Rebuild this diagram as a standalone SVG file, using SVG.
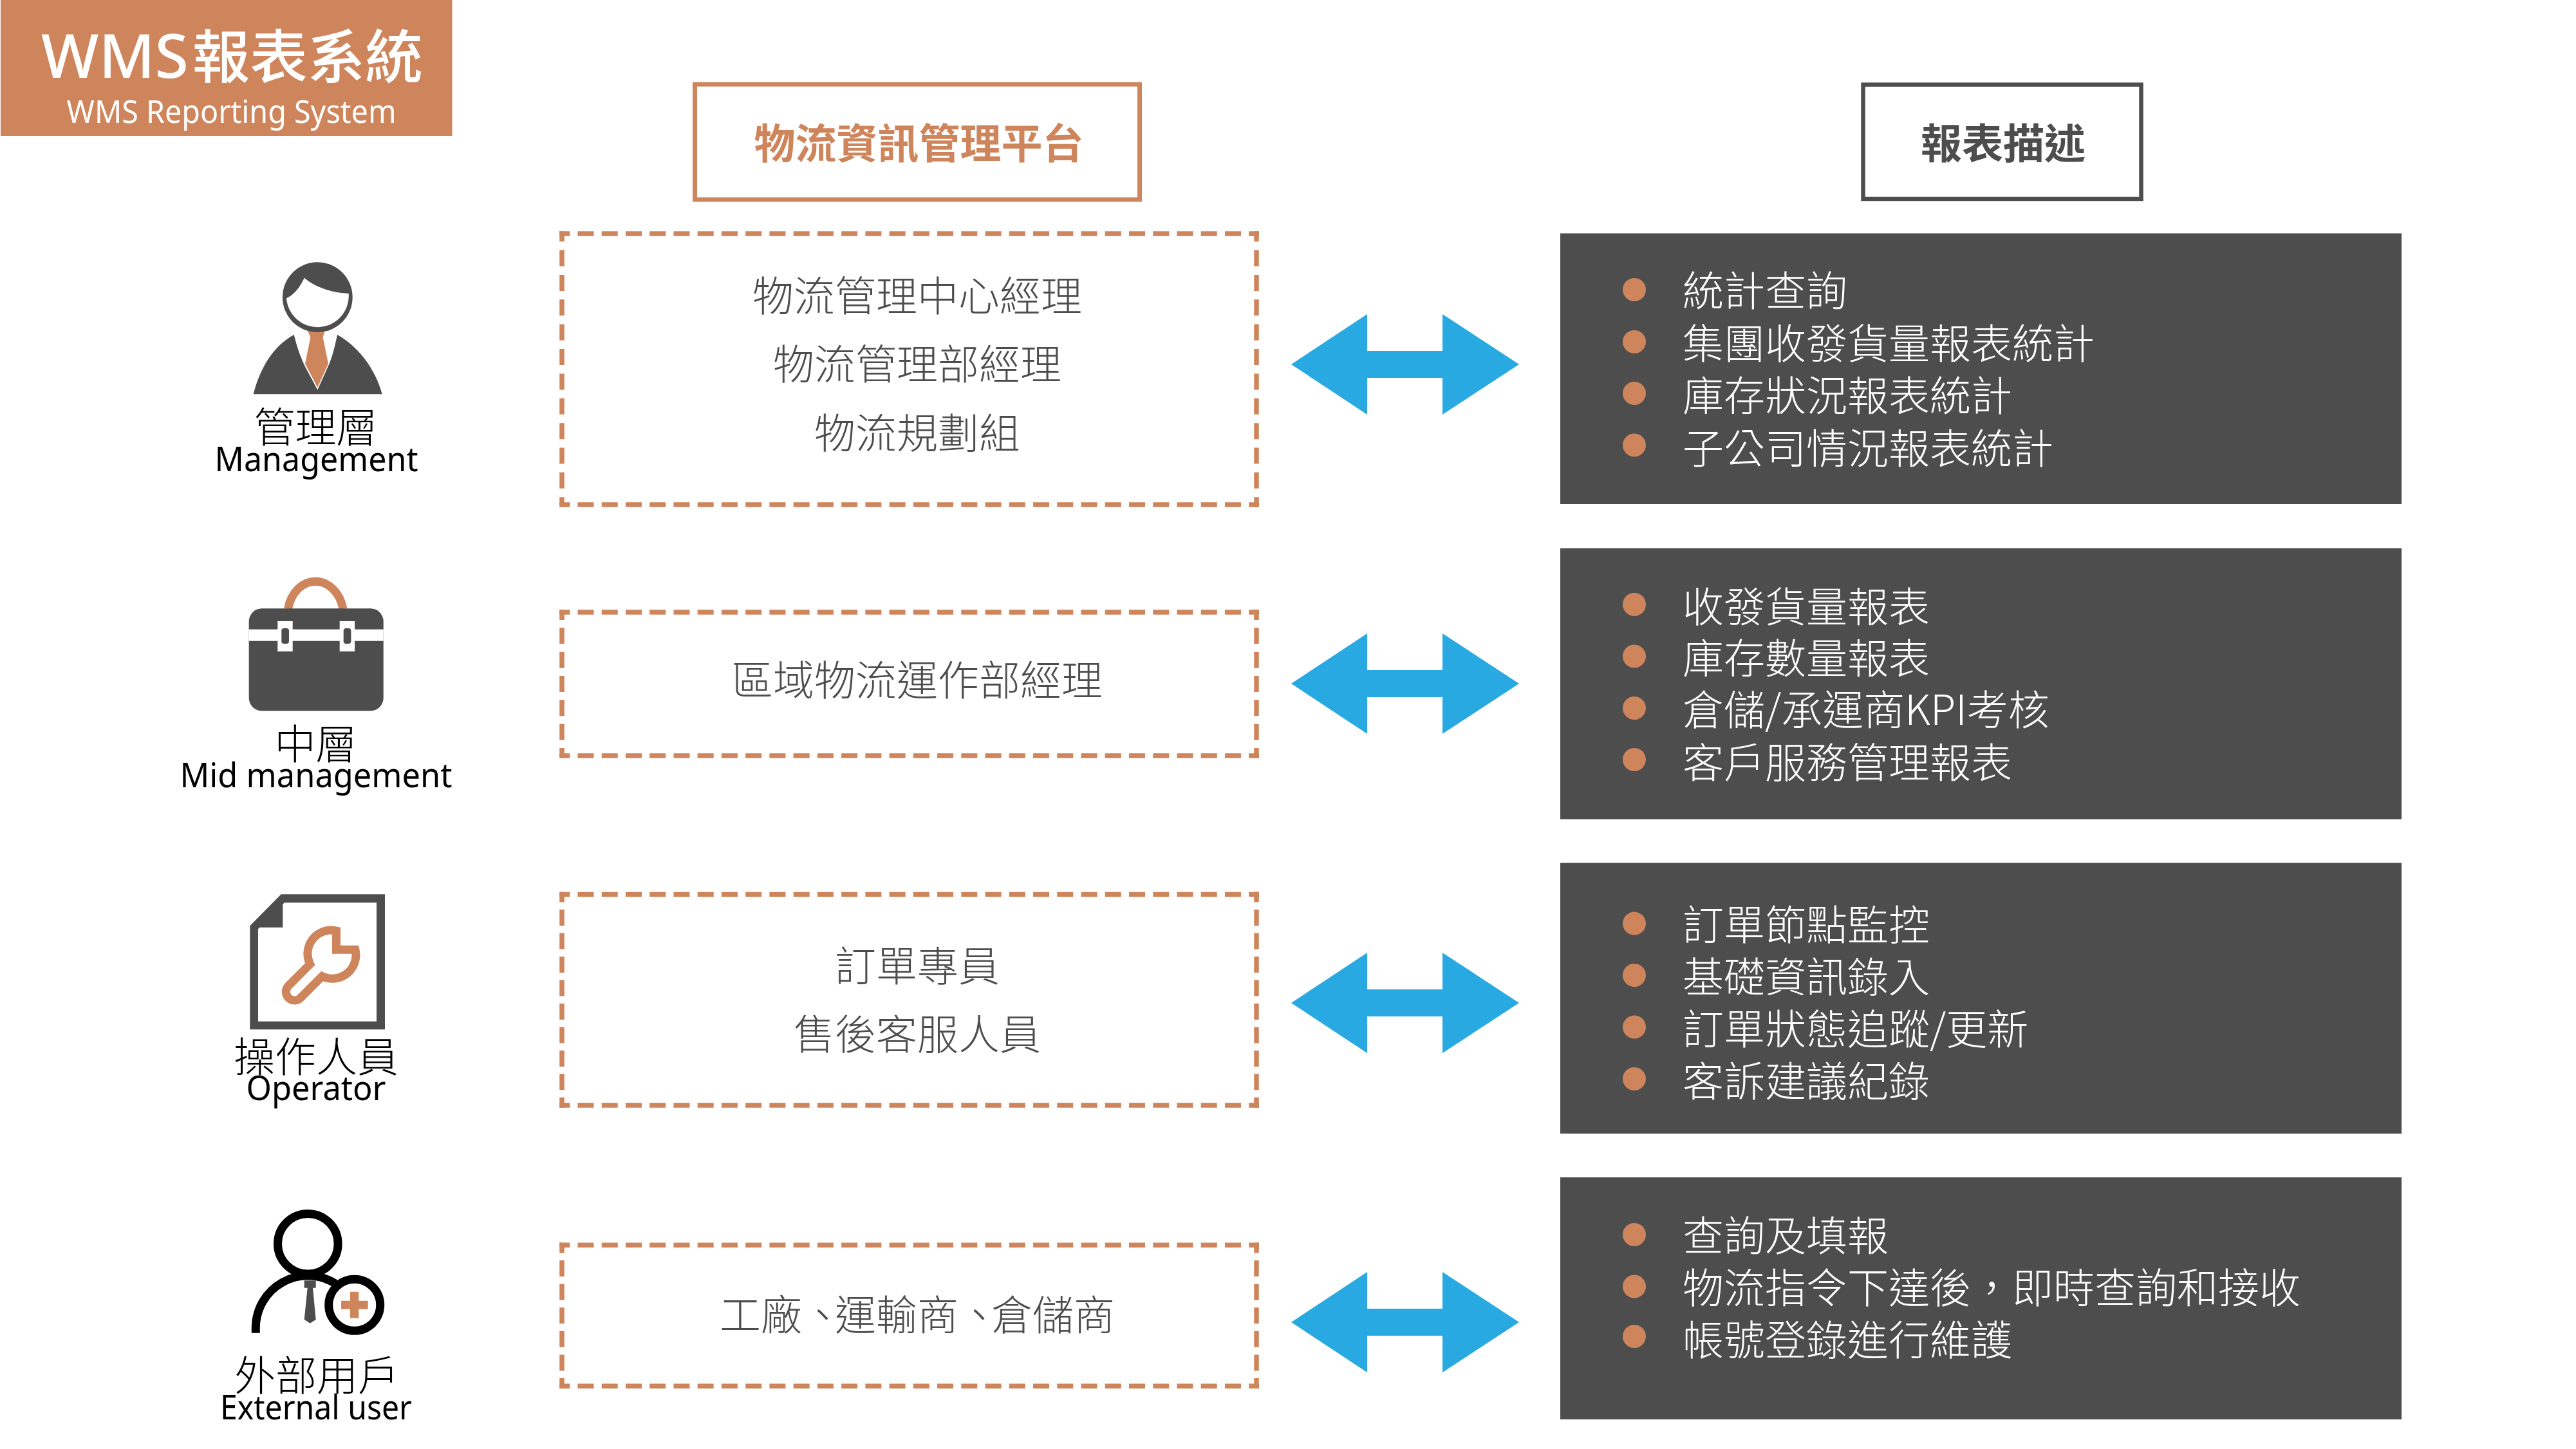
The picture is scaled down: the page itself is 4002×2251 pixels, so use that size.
<svg xmlns="http://www.w3.org/2000/svg" xmlns:xlink="http://www.w3.org/1999/xlink" width="4002" height="2251" viewBox="0 0 4002 2251">
<style>
text{font-family:"Noto Sans CJK TC","Noto Sans",sans-serif}
.role{font-size:64px;fill:#000;text-anchor:middle;font-weight:300}
.en{font-size:53px;fill:#000;text-anchor:middle;font-family:"Noto Sans","Open Sans",sans-serif}
.mid{font-size:64px;fill:#4d4d4d;text-anchor:middle;font-weight:300}
.rep{font-size:64px;fill:#fff;font-weight:300}
.hd{font-size:64px;font-weight:700;text-anchor:middle}
.dark{fill:#4d4d4d}
.or{fill:#cf855b}
.dash{fill:none;stroke:#cf855b;stroke-width:7.5;stroke-dashoffset:9}
.dh{stroke-dasharray:25 12.24}
.bul{fill:#cf855b}
.ring{fill:none;stroke:#000;stroke-width:13}
</style>
<defs>
<polygon id="dbl" fill="#29a9e1" points="2006,0 2124,-78 2124,-21 2241,-21 2241,-78 2360,0 2241,78 2241,21 2124,21 2124,78"/>
</defs>
<rect width="4002" height="2251" fill="#fff"/>

<g id="title">
<rect class="or" x="1" y="0" width="701.5" height="211"/>
<text x="64" y="121" fill="#fff" font-weight="500"><tspan font-size="95" style="font-family:'Noto Sans',sans-serif">WMS</tspan><tspan font-size="89.5" dx="6">報表系統</tspan></text>
<text x="359.5" y="191" fill="#fff" font-size="50" text-anchor="middle" textLength="512" lengthAdjust="spacingAndGlyphs" style="font-family:'Noto Sans',sans-serif">WMS Reporting System</text>
</g>

<g id="header-platform">
<rect x="1079.5" y="131" width="691" height="179" fill="none" stroke="#cf855b" stroke-width="7"/>
<text class="hd" x="1427.5" y="246" fill="#cf855b">物流資訊管理平台</text>
</g>
<g id="header-report">
<rect x="2894.5" y="131.5" width="432" height="177.5" fill="none" stroke="#4d4d4d" stroke-width="6.5"/>
<text class="hd" x="3112" y="246" fill="#4d4d4d">報表描述</text>
</g>

<g id="role-management">
<path class="or" d="M477.3 512L482.3 524L474 565L493.3 602L510 565L501.7 524L505 512Z"/>
<circle class="dark" cx="493.3" cy="461.7" r="54.4"/>
<path fill="#fff" d="M541.7 456A48.3 48.3 0 1 1 445 463.3C457 458 466 446 472.7 431.7C490 446 515 455 541.7 456Z"/>
<path class="dark" d="M456.7 520C424 538 404 572 393.7 612.3H593.7C583 572 556 538 524 520C520 540 516 555 510.7 567L493.3 605.7L472.7 567C466 552 461 538 456.7 520Z"/>
<text class="role" x="490.5" y="687">管理層</text>
<text class="en" x="491.5" y="731.7" textLength="316" lengthAdjust="spacingAndGlyphs">Management</text>
</g>

<g id="role-mid">
<path fill="none" stroke="#cf855b" stroke-width="13" d="M447.5 946C452 920 470 903.3 490 903.3C510 903.3 528 920 533 946"/>
<path class="dark" d="M406.7 945.3H575.7A20 20 0 0 1 595.7 965.3V1084.3A20 20 0 0 1 575.7 1104.3H406.7A20 20 0 0 1 386.7 1084.3V965.3A20 20 0 0 1 406.7 945.3Z"/>
<rect x="386.7" y="977.7" width="209" height="18" fill="#fff"/>
<rect x="431.3" y="965" width="23.4" height="47" fill="#fff"/>
<rect x="527.7" y="965" width="23.4" height="47" fill="#fff"/>
<rect class="dark" x="437.3" y="976" width="11.7" height="24" rx="4"/>
<rect class="dark" x="533.7" y="976" width="11.7" height="24" rx="4"/>
<text class="role" x="490.5" y="1179">中層</text>
<text class="en" x="491" y="1223" textLength="423" lengthAdjust="spacingAndGlyphs">Mid management</text>
</g>

<g id="role-operator">
<path class="dark" fill-rule="evenodd" d="M436.7 1389.3H598V1599.3H388.3V1438.3ZM441.7 1402.3H585V1586.7H401V1443.3L403.3 1440.7H439.3V1405Z"/>
<path fill="none" stroke="#cf855b" stroke-width="13" stroke-linejoin="miter" d="M522.5 1475.2V1446A36.5 36.5 0 0 0 481.7 1497.8L447.9 1531.6A13.3 13.3 0 0 0 466.7 1550.4L500.5 1516.6A36.5 36.5 0 0 0 551.9 1475.2Z"/>
<text class="role" x="491" y="1665">操作人員</text>
<text class="en" x="491" y="1709" textLength="217" lengthAdjust="spacingAndGlyphs">Operator</text>
</g>

<g id="role-external">
<circle class="ring" cx="478.3" cy="1932.3" r="46.8"/>
<path class="ring" d="M397.3 2070.7V2063A81 81 0 0 1 521 1994"/>
<circle fill="#fff" cx="550.7" cy="2027.3" r="40"/>
<circle class="ring" cx="550.7" cy="2027.3" r="40"/>
<path class="dark" d="M472.7 1989.3H490.7V2000.7H486L490.7 2050L481.7 2055.7L472.7 2050L477.7 2000.7H472.7Z"/>
<path class="or" d="M544 2006.7H557.3V2020.7H571.7V2033.7H557.3V2047.7H544V2033.7H530V2020.7H544Z"/>
<text class="role" x="492" y="2160">外部用戶</text>
<text class="en" x="491" y="2205" textLength="298" lengthAdjust="spacingAndGlyphs">External user</text>
</g>

<g id="platform-1">
<path class="dash dh" d="M869.25 363H1956M869.25 784H1956"/>
<path class="dash" stroke-dasharray="25 13.36" d="M873 359.25V788M1952 359.25V788"/>
<text class="mid" x="1425" y="483">物流管理中心經理</text>
<text class="mid" x="1425" y="589">物流管理部經理</text>
<text class="mid" x="1425" y="696">物流規劃組</text>
</g>
<g id="platform-2">
<path class="dash dh" d="M869.25 951H1956M869.25 1174H1956"/>
<path class="dash" stroke-dasharray="25 12.33" d="M873 947V1178M1952 947V1178"/>
<text class="mid" x="1425" y="1080">區域物流運作部經理</text>
</g>
<g id="platform-3">
<path class="dash dh" d="M869.25 1389.4H1956M869.25 1717H1956"/>
<path class="dash" stroke-dasharray="25 11.47" d="M873 1385.6V1720.8M1952 1385.6V1720.8"/>
<text class="mid" x="1425" y="1524">訂單專員</text>
<text class="mid" x="1425" y="1630">售後客服人員</text>
</g>
<g id="platform-4">
<path class="dash dh" d="M869.25 1934.3H1956M869.25 2153.2H1956"/>
<path class="dash" stroke-dasharray="25 11.58" d="M873 1930.5V2157M1952 1930.5V2157"/>
<text class="mid" x="1425" y="2066">工廠、<tspan dx="-13">運輸商</tspan>、<tspan dx="-13">倉儲商</tspan></text>
</g>

<g id="connectors">
<use xlink:href="#dbl" href="#dbl" y="566"/>
<use xlink:href="#dbl" href="#dbl" y="1062"/>
<use xlink:href="#dbl" href="#dbl" y="1558"/>
<use xlink:href="#dbl" href="#dbl" y="2054"/>
</g>

<g id="report-1">
<rect class="dark" x="2424" y="362.5" width="1307" height="420.5"/>
<circle class="bul" cx="2539" cy="450" r="18"/><circle class="bul" cx="2539" cy="531" r="18"/><circle class="bul" cx="2539" cy="611" r="18"/><circle class="bul" cx="2539" cy="691.5" r="18"/>
<text class="rep" x="2614" y="475">統計查詢</text>
<text class="rep" x="2614" y="557">集團收發貨量報表統計</text>
<text class="rep" x="2614" y="638">庫存狀況報表統計</text>
<text class="rep" x="2614" y="720">子公司情況報表統計</text>
</g>
<g id="report-2">
<rect class="dark" x="2424" y="851.6" width="1307" height="421"/>
<circle class="bul" cx="2539" cy="939" r="18"/><circle class="bul" cx="2539" cy="1019.5" r="18"/><circle class="bul" cx="2539" cy="1100" r="18"/><circle class="bul" cx="2539" cy="1180" r="18"/>
<text class="rep" x="2614" y="966">收發貨量報表</text>
<text class="rep" x="2614" y="1046">庫存數量報表</text>
<text class="rep" x="2614" y="1126">倉儲/承運商KPI考核</text>
<text class="rep" x="2614" y="1208">客戶服務管理報表</text>
</g>
<g id="report-3">
<rect class="dark" x="2424" y="1340.5" width="1307" height="420.5"/>
<circle class="bul" cx="2539" cy="1434.6" r="18"/><circle class="bul" cx="2539" cy="1515" r="18"/><circle class="bul" cx="2539" cy="1595.5" r="18"/><circle class="bul" cx="2539" cy="1676" r="18"/>
<text class="rep" x="2614" y="1460">訂單節點監控</text>
<text class="rep" x="2614" y="1541">基礎資訊錄入</text>
<text class="rep" x="2614" y="1622">訂單狀態追蹤/更新</text>
<text class="rep" x="2614" y="1703">客訴建議紀錄</text>
</g>
<g id="report-4">
<rect class="dark" x="2424" y="1829" width="1307" height="376"/>
<circle class="bul" cx="2539" cy="1918" r="18"/><circle class="bul" cx="2539" cy="1998.5" r="18"/><circle class="bul" cx="2539" cy="2076" r="18"/>
<text class="rep" x="2614" y="1943">查詢及填報</text>
<text class="rep" x="2614" y="2024">物流指令下達後，即時查詢和接收</text>
<text class="rep" x="2614" y="2105">帳號登錄進行維護</text>
</g>
</svg>
